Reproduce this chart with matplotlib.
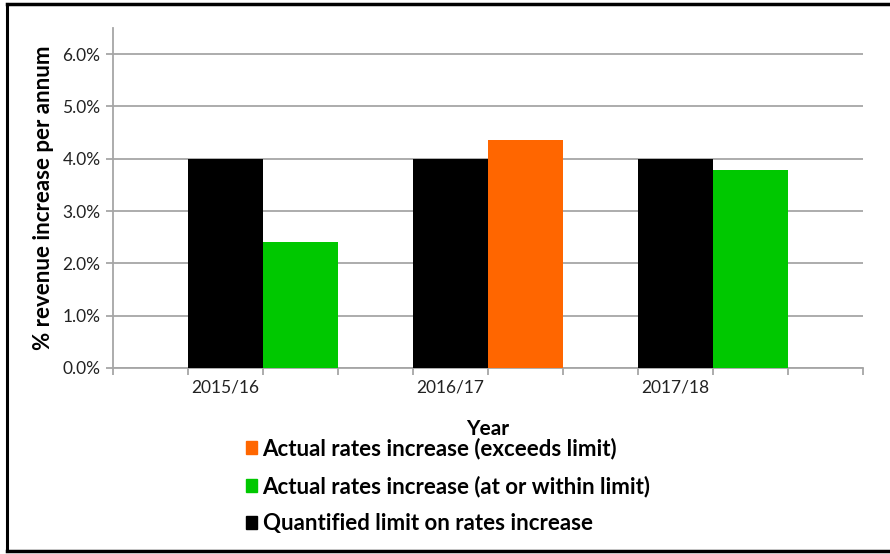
import matplotlib
matplotlib.use("Agg")
import matplotlib.pyplot as plt
from matplotlib.patches import Patch
from matplotlib.lines import Line2D
from matplotlib.ticker import FuncFormatter

plt.rcParams['font.family'] = ['Lato', 'DejaVu Sans']

years = ['2015/16', '2016/17', '2017/18']
limit = [4.0, 4.0, 4.0]
actual = [2.41, 4.35, 3.78]
y_ticks = [0, 1, 2, 3, 4, 5, 6]

c_black = '#000000'
c_green = '#00C800'
c_orange = '#FF6600'
grid_c = '#A6A6A6'

W, H = 890, 554
fig = plt.figure(figsize=(W / 100, H / 100), dpi=100)
ax = fig.add_axes([113 / W, 1 - 368 / H, (863 - 113) / W, (368 - 28) / H])

for i, (lim, act) in enumerate(zip(limit, actual)):
    base = 3 * i + 1
    ax.bar(base, lim, width=1, align='edge', color=c_black, zorder=3)
    ax.bar(base + 1, act, width=1, align='edge',
           color=c_orange if act > lim else c_green, zorder=3)

ax.set_xlim(0, 10)
ax.set_ylim(0, 6.5)
ax.set_yticks(y_ticks)
ax.yaxis.set_major_formatter(FuncFormatter(lambda v, p: f'{v:.1f}%'))
ax.grid(axis='y', color=grid_c, lw=1.3, zorder=0)

ax.set_xticks(range(0, 11))
ax.set_xticklabels([])
ax.set_xticks([3 * i + 1.5 for i in range(len(years))], minor=True)
ax.set_xticklabels(years, minor=True)
ax.tick_params(axis='x', which='major', length=5, width=1.3, color=grid_c)
ax.tick_params(axis='x', which='minor', length=0, pad=8, labelsize=12.5, labelcolor='#222222')
ax.tick_params(axis='y', length=5, width=1.3, color=grid_c, pad=4, labelsize=12.5, labelcolor='#222222')

for s in ['top', 'right']:
    ax.spines[s].set_visible(False)
for s in ['left', 'bottom']:
    ax.spines[s].set_color(grid_c)
    ax.spines[s].set_linewidth(1.3)

ax.set_ylabel('% revenue increase per annum', fontsize=16, fontweight='bold', labelpad=6)
ax.set_xlabel('Year', fontsize=15, fontweight='bold', labelpad=17)

handles = [Patch(color=c_orange), Patch(color=c_green), Patch(color=c_black)]
labels = ['Actual rates increase (exceeds limit)',
          'Actual rates increase (at or within limit)',
          'Quantified limit on rates increase']
fig.legend(handles, labels, loc='upper left', bbox_to_anchor=(237 / W, 1 - 429 / H),
           frameon=False, handlelength=0.5, handleheight=0.5, handletextpad=0.25,
           labelspacing=0.72, prop={'size': 16, 'weight': 'bold'}, borderaxespad=0)

# outer frame
fig.add_artist(Line2D([7 / W, 7 / W], [1 - 3.5 / H, 1 - 551 / H], color='black', lw=2.2, transform=fig.transFigure))
fig.add_artist(Line2D([7 / W, 1], [1 - 3.5 / H, 1 - 3.5 / H], color='black', lw=2.5, transform=fig.transFigure))
fig.add_artist(Line2D([7 / W, 1], [1 - 551 / H, 1 - 551 / H], color='black', lw=2.5, transform=fig.transFigure))

fig.savefig('out.png', dpi=100)
